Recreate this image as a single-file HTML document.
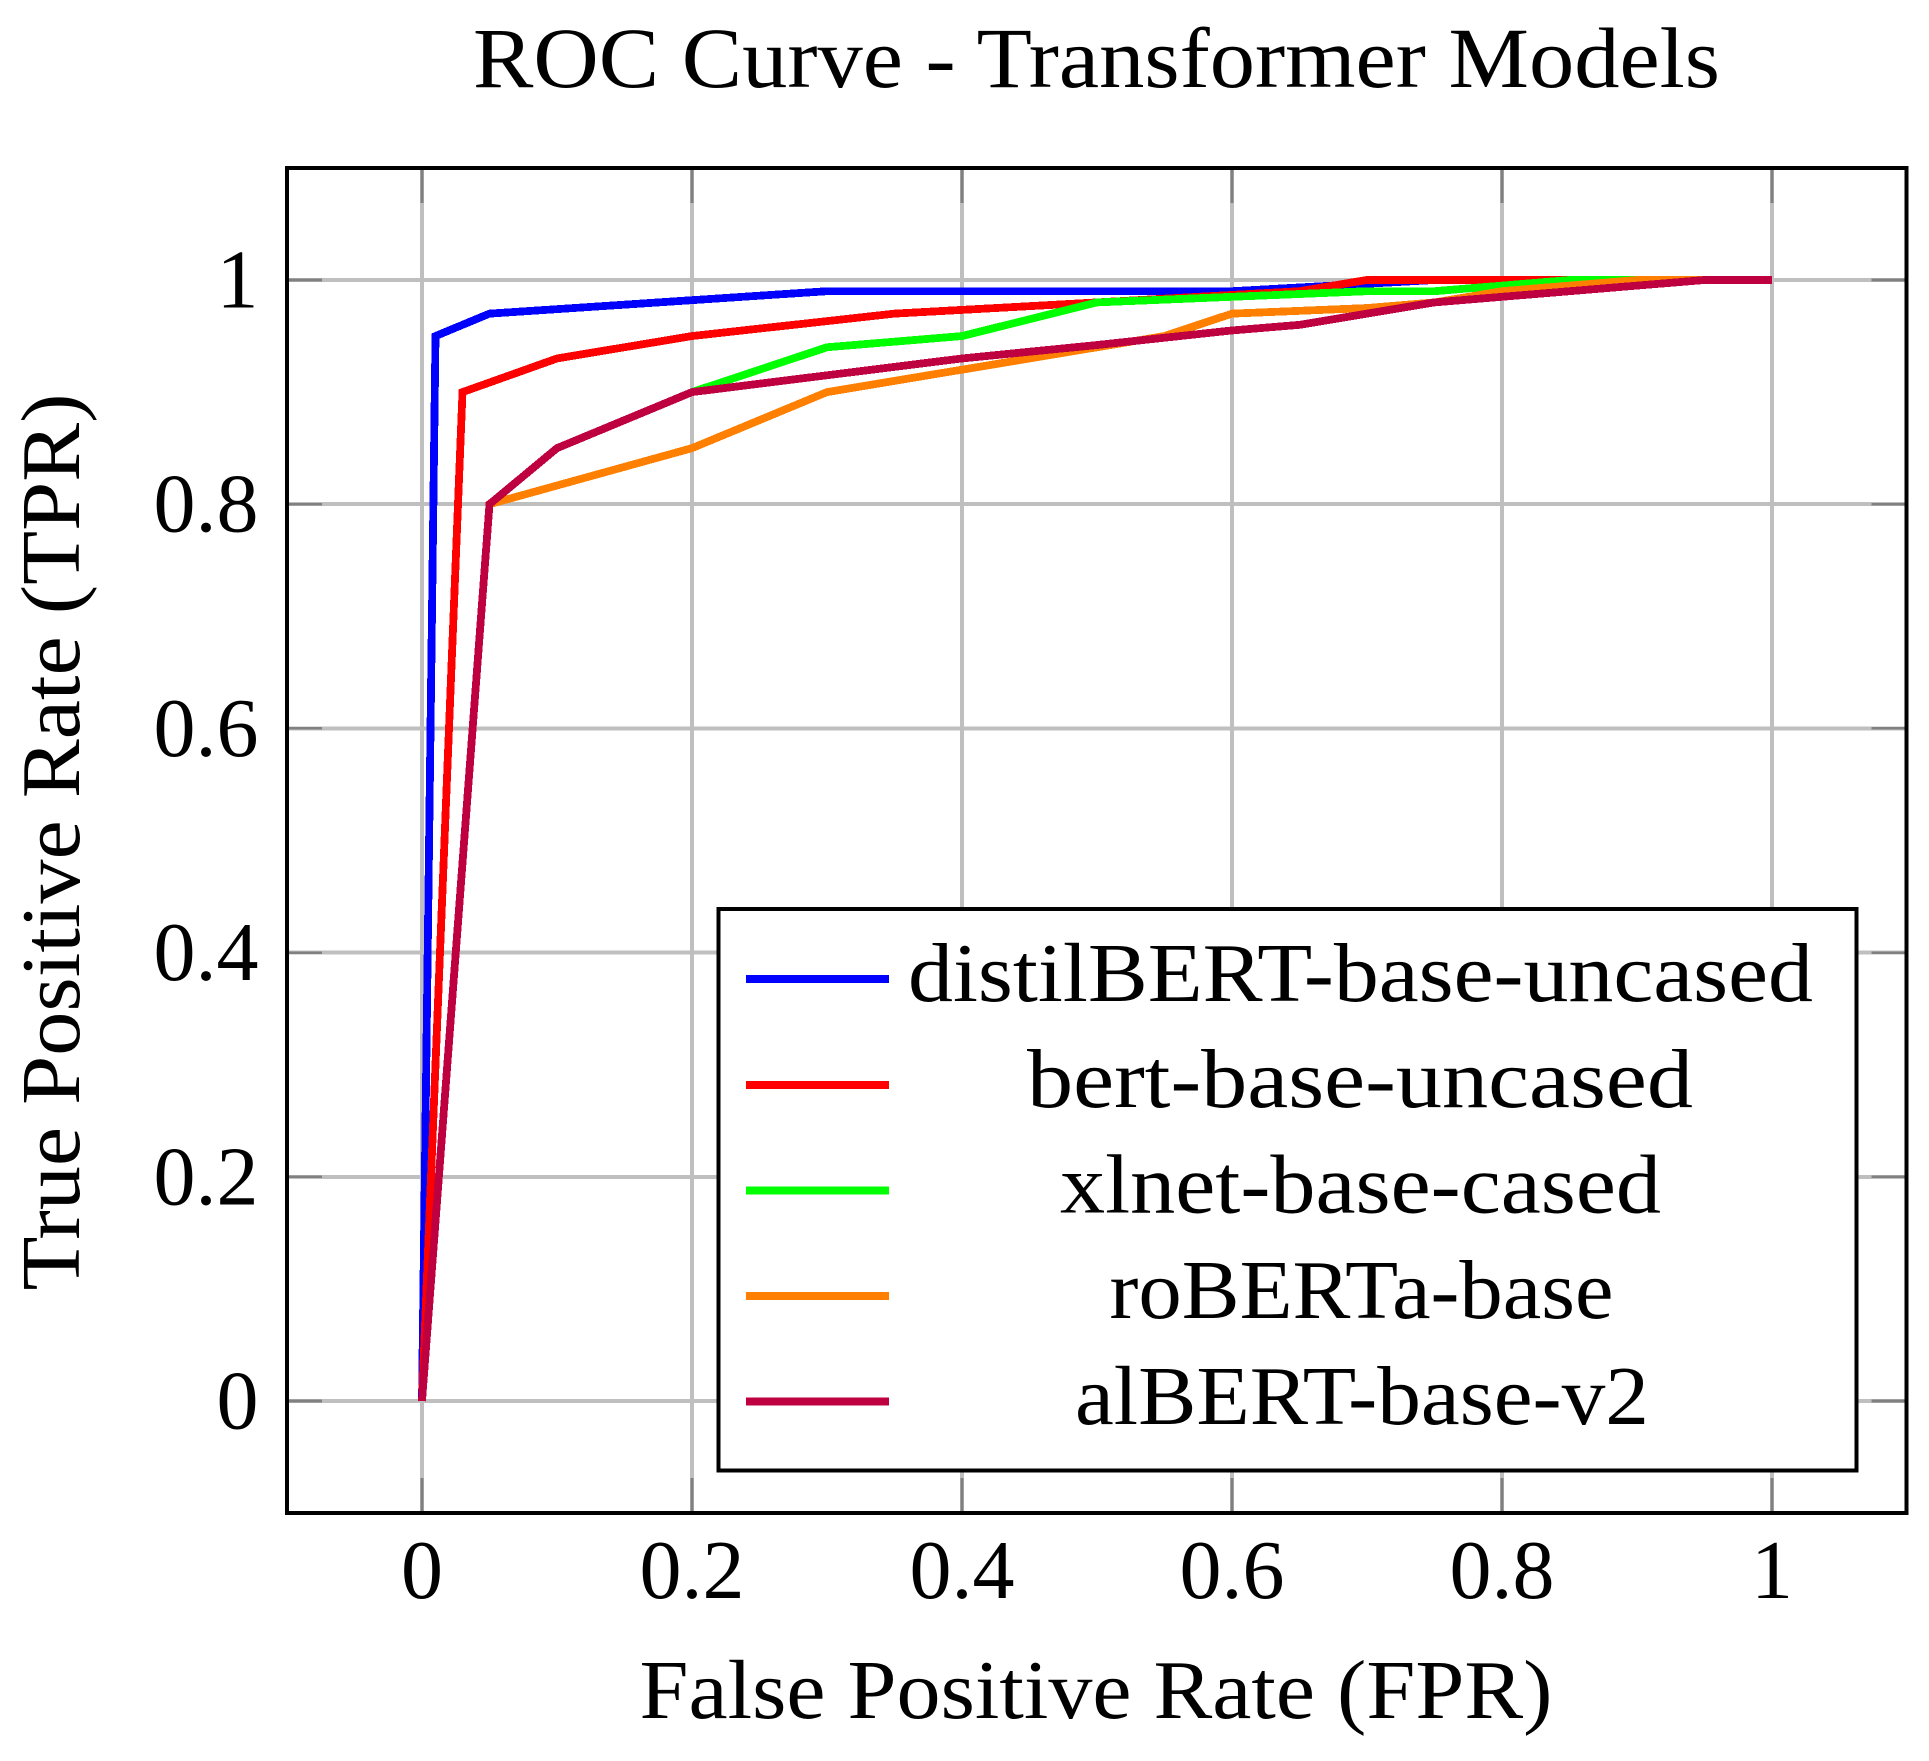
<!DOCTYPE html>
<html lang="en">
<head>
<meta charset="utf-8">
<title>ROC Curve - Transformer Models</title>
<style>
  html, body { margin: 0; padding: 0; background: #ffffff; }
  svg { display: block; }
  text { font-family: "Liberation Serif", serif; fill: #000000; }
</style>
</head>
<body>
<svg id="chart" width="1929" height="1761" viewBox="0 0 1929 1761" xmlns="http://www.w3.org/2000/svg">
  <rect x="0" y="0" width="1929" height="1761" fill="#ffffff"/>
  <text x="1096.5" y="87" font-size="86" text-anchor="middle" textLength="1247" lengthAdjust="spacingAndGlyphs">ROC Curve - Transformer Models</text>
  <g id="grid" shape-rendering="crispEdges"></g>
  <g id="ticks" shape-rendering="crispEdges"></g>
  <g id="curves" shape-rendering="crispEdges"></g>
  <rect x="287" y="168" width="1619.5" height="1345" fill="none" stroke="#000000" stroke-width="4" shape-rendering="crispEdges"/>
  <g id="tick-labels"></g>
  <text x="1096" y="1718" font-size="84" text-anchor="middle" textLength="913" lengthAdjust="spacingAndGlyphs">False Positive Rate (FPR)</text>
  <text transform="translate(79 842) rotate(-90)" x="0" y="0" font-size="84" text-anchor="middle" textLength="897" lengthAdjust="spacingAndGlyphs">True Positive Rate (TPR)</text>
  <g>
    <rect x="718.3" y="909" width="1138" height="561.5" fill="#ffffff" stroke="#000000" stroke-width="4" shape-rendering="crispEdges"/>
    <line x1="746" x2="889" y1="979" y2="979" stroke="#0000ff" stroke-width="8" shape-rendering="crispEdges"/>
    <text x="1360.5" y="1001" font-size="84" text-anchor="middle" textLength="905" lengthAdjust="spacingAndGlyphs">distilBERT-base-uncased</text>
    <line x1="746" x2="889" y1="1085" y2="1085" stroke="#ff0000" stroke-width="8" shape-rendering="crispEdges"/>
    <text x="1360" y="1107" font-size="84" text-anchor="middle" textLength="666" lengthAdjust="spacingAndGlyphs">bert-base-uncased</text>
    <line x1="746" x2="889" y1="1190.5" y2="1190.5" stroke="#00ff00" stroke-width="8" shape-rendering="crispEdges"/>
    <text x="1360.5" y="1212.5" font-size="84" text-anchor="middle" textLength="601" lengthAdjust="spacingAndGlyphs">xlnet-base-cased</text>
    <line x1="746" x2="889" y1="1296" y2="1296" stroke="#ff8000" stroke-width="8" shape-rendering="crispEdges"/>
    <text x="1361.5" y="1318" font-size="84" text-anchor="middle" textLength="504" lengthAdjust="spacingAndGlyphs">roBERTa-base</text>
    <line x1="746" x2="889" y1="1401.5" y2="1401.5" stroke="#bf0040" stroke-width="8" shape-rendering="crispEdges"/>
    <text x="1362" y="1424" font-size="84" text-anchor="middle" textLength="574" lengthAdjust="spacingAndGlyphs">alBERT-base-v2</text>
  </g>
</svg>
<script>
const tickValues = [0, 0.2, 0.4, 0.6, 0.8, 1];
const tickLabels = ["0", "0.2", "0.4", "0.6", "0.8", "1"];

const distilbertFpr = [0, 0.01, 0.05, 0.3, 0.6, 0.75, 1];
const distilbertTpr = [0, 0.95, 0.97, 0.99, 0.99, 1, 1];
const bertFpr = [0, 0.03, 0.1, 0.2, 0.35, 0.5, 0.65, 0.7, 1];
const bertTpr = [0, 0.9, 0.93, 0.95, 0.97, 0.98, 0.99, 1, 1];
const xlnetFpr = [0, 0.05, 0.1, 0.2, 0.3, 0.4, 0.5, 0.7, 0.75, 0.85, 1];
const xlnetTpr = [0, 0.8, 0.85, 0.9, 0.94, 0.95, 0.98, 0.99, 0.99, 1, 1];
const robertaFpr = [0, 0.05, 0.2, 0.3, 0.4, 0.55, 0.6, 0.7, 0.75, 0.8, 0.9, 1];
const robertaTpr = [0, 0.8, 0.85, 0.9, 0.92, 0.95, 0.97, 0.975, 0.98, 0.99, 1, 1];
const albertFpr = [0, 0.05, 0.1, 0.2, 0.3, 0.4, 0.5, 0.6, 0.65, 0.75, 0.8, 0.95, 1];
const albertTpr = [0, 0.8, 0.85, 0.9, 0.915, 0.93, 0.942, 0.955, 0.96, 0.98, 0.985, 1, 1];

const NS = "http://www.w3.org/2000/svg";
const plotLeft = 287, plotRight = 1906.5, plotTop = 168, plotBottom = 1513;
const tickLength = 35;

function xScale(v) { return 422 + v * 1350; }
function yScale(v) { return 1401 - v * 1121; }

function lineEl(x1, y1, x2, y2, stroke, width) {
  const el = document.createElementNS(NS, "line");
  el.setAttribute("x1", x1);
  el.setAttribute("y1", y1);
  el.setAttribute("x2", x2);
  el.setAttribute("y2", y2);
  el.setAttribute("stroke", stroke);
  el.setAttribute("stroke-width", width);
  return el;
}

const gridGroup = document.getElementById("grid");
const tickGroup = document.getElementById("ticks");
const labelGroup = document.getElementById("tick-labels");

tickValues.forEach(function (v, i) {
  const px = xScale(v);
  const py = yScale(v);

  const gridV = lineEl(px, plotTop, px, plotBottom, "#bfbfbf", 4);
  
  
  gridGroup.appendChild(gridV);

  const gridH = lineEl(plotLeft, py, plotRight, py, "#bfbfbf", 4);
  
  
  gridGroup.appendChild(gridH);

  const tickB = lineEl(px, plotBottom, px, plotBottom - tickLength, "#808080", 2.6);
  
  
  tickGroup.appendChild(tickB);

  const tickT = lineEl(px, plotTop, px, plotTop + tickLength, "#808080", 2.6);
  
  
  tickGroup.appendChild(tickT);

  const tickL = lineEl(plotLeft, py, plotLeft + tickLength, py, "#808080", 2.6);
  
  
  tickGroup.appendChild(tickL);

  const tickR = lineEl(plotRight, py, plotRight - tickLength, py, "#808080", 2.6);
  
  
  tickGroup.appendChild(tickR);

  const xLabel = document.createElementNS(NS, "text");
  xLabel.setAttribute("x", px);
  xLabel.setAttribute("y", 1598);
  xLabel.setAttribute("font-size", 84);
  xLabel.setAttribute("text-anchor", "middle");
  xLabel.textContent = tickLabels[i];
  
  
  labelGroup.appendChild(xLabel);

  const yLabel = document.createElementNS(NS, "text");
  yLabel.setAttribute("x", 258.5);
  yLabel.setAttribute("y", py + 27.5);
  yLabel.setAttribute("font-size", 84);
  yLabel.setAttribute("text-anchor", "end");
  yLabel.textContent = tickLabels[i];
  
  
  labelGroup.appendChild(yLabel);
});

function drawCurve(fpr, tpr, color) {
  const pts = fpr.map(function (f, i) { return xScale(f) + "," + yScale(tpr[i]); }).join(" ");
  const el = document.createElementNS(NS, "polyline");
  el.setAttribute("points", pts);
  el.setAttribute("fill", "none");
  el.setAttribute("stroke", color);
  el.setAttribute("stroke-width", 7.8);
  el.setAttribute("stroke-linejoin", "miter");
  document.getElementById("curves").appendChild(el);
  return el;
}

const curveDistilbert = drawCurve(distilbertFpr, distilbertTpr, "#0000ff");


const curveBert = drawCurve(bertFpr, bertTpr, "#ff0000");


const curveXlnet = drawCurve(xlnetFpr, xlnetTpr, "#00ff00");


const curveRoberta = drawCurve(robertaFpr, robertaTpr, "#ff8000");


const curveAlbert = drawCurve(albertFpr, albertTpr, "#bf0040");


</script>
</body>
</html>
